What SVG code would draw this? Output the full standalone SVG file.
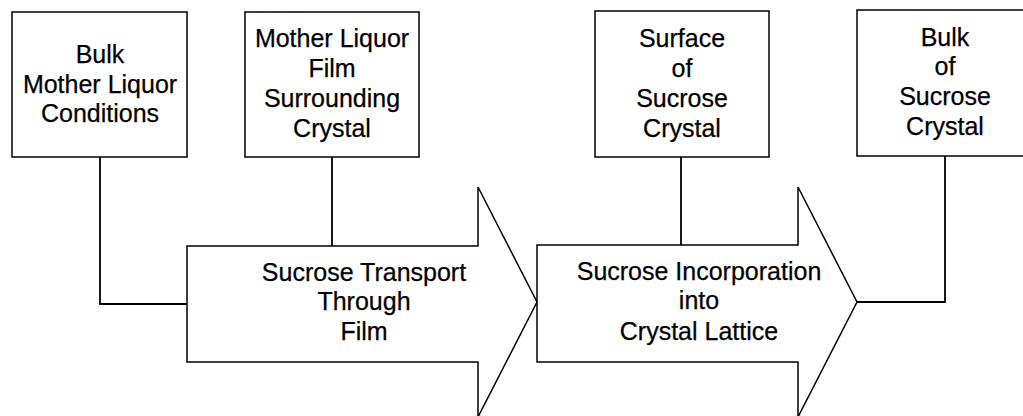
<svg xmlns="http://www.w3.org/2000/svg" width="1023" height="416" viewBox="0 0 1023 416">
<style>
.box{fill:#fff;stroke:#000;stroke-width:1.5}
.arrow{fill:#fff;stroke:#000;stroke-width:1.5;stroke-linejoin:miter}
.conn{fill:none;stroke:#000;stroke-width:1.8}
text{font-family:"Liberation Sans",Arial,sans-serif;font-size:25px;fill:#000;stroke:#000;stroke-width:0.25;text-anchor:middle}
</style>
<rect width="1023" height="416" fill="#fff"/>
<g id="connectors">
<polyline class="conn" points="100,157 100,304 187,304"/>
<line class="conn" x1="332" y1="157" x2="332" y2="246"/>
<line class="conn" x1="681" y1="157" x2="681" y2="245"/>
<polyline class="conn" points="945,156 945,302 857,302"/>
</g>
<g id="box1">
<rect class="box" x="12" y="12" width="175" height="145"/>
<text x="100" y="63">Bulk</text>
<text x="100" y="93">Mother Liquor</text>
<text x="100" y="122">Conditions</text>
</g>
<g id="box2">
<rect class="box" x="245" y="12" width="174" height="145"/>
<text x="332" y="47">Mother Liquor</text>
<text x="332" y="77">Film</text>
<text x="332" y="107">Surrounding</text>
<text x="332" y="137">Crystal</text>
</g>
<g id="box3">
<rect class="box" x="595" y="11" width="174" height="146"/>
<text x="682" y="47">Surface</text>
<text x="682" y="77">of</text>
<text x="682" y="107">Sucrose</text>
<text x="682" y="137">Crystal</text>
</g>
<g id="box4">
<rect class="box" x="857" y="10" width="176" height="146"/>
<text x="945" y="46">Bulk</text>
<text x="945" y="75">of</text>
<text x="945" y="105">Sucrose</text>
<text x="945" y="135">Crystal</text>
</g>
<g id="arrow1">
<polygon class="arrow" points="187,246 478,246 478,187 537,302 478,417 478,362 187,362"/>
<text x="364" y="281">Sucrose Transport</text>
<text x="364" y="310">Through</text>
<text x="364" y="340">Film</text>
</g>
<g id="arrow2">
<polygon class="arrow" points="537,245 798,245 798,187 857,302 798,417 798,362 537,362"/>
<text x="699" y="280">Sucrose Incorporation</text>
<text x="699" y="309">into</text>
<text x="699" y="340">Crystal Lattice</text>
</g>
</svg>
